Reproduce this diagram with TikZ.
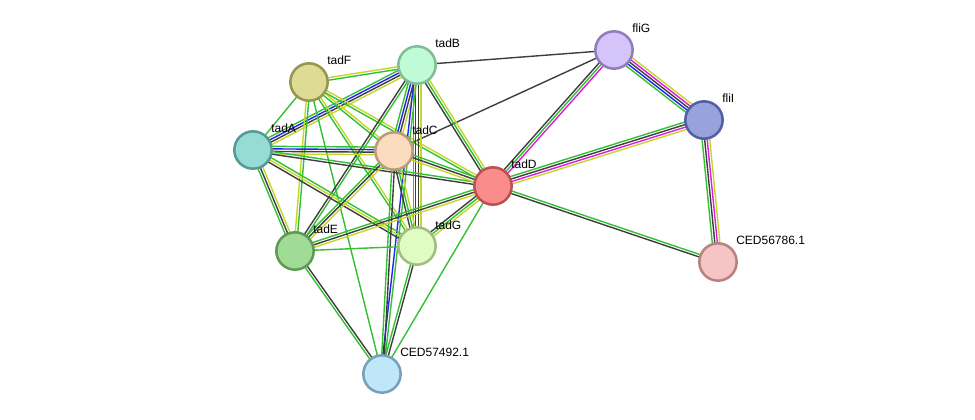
\documentclass[tikz,border=0pt]{standalone}
\usepackage{fontspec}
\setmainfont{Liberation Sans}
\usetikzlibrary{calc,backgrounds}
\definecolor{eg}{RGB}{51,192,51}
\definecolor{ey}{RGB}{196,214,44}
\definecolor{ek}{RGB}{62,62,62}
\definecolor{eb}{RGB}{35,35,240}
\definecolor{em}{RGB}{220,30,220}
\tikzset{
  prot/.style={circle,minimum size=28pt,inner sep=0pt,line width=1.9pt},
  plabel/.style={anchor=west,inner sep=0pt,font=\fontsize{9}{10}\selectfont},
}
\newcommand\edge[3]{%
  \foreach \c [count=\i] in {#3} {\xdef\ncount{\i}}%
  \foreach \c [count=\i] in {#3} {%
    \pgfmathsetmacro\off{(\i-(\ncount+1)/2)*1.9}%
    \draw[\c,line width=1.05pt] let \p1=($(#2.center)-(#1.center)$), \n1={atan2(\y1,\x1)+90} in
      ($(#1.center)+(\n1:\off pt)$) -- ($(#2.center)+(\n1:\off pt)$);
  }%
}
\begin{document}
\begin{tikzpicture}[x=0.75pt,y=-0.75pt]
\useasboundingbox (0,0) rectangle (975,419);
\node[prot,fill={rgb,255:red,222;green,220;blue,148},draw={rgb,255:red,150;green,150;blue,80}] (tadF) at (309,82) {};
\node[prot,fill={rgb,255:red,192;green,250;blue,214},draw={rgb,255:red,128;green,190;blue,150}] (tadB) at (417,65) {};
\node[prot,fill={rgb,255:red,212;green,196;blue,250},draw={rgb,255:red,145;green,125;blue,190}] (fliG) at (614,50) {};
\node[prot,fill={rgb,255:red,152;green,162;blue,220},draw={rgb,255:red,85;green,95;blue,165}] (fliI) at (704,120) {};
\node[prot,fill={rgb,255:red,150;green,220;blue,212},draw={rgb,255:red,85;green,155;blue,148}] (tadA) at (253,150) {};
\node[prot,fill={rgb,255:red,252;green,220;blue,190},draw={rgb,255:red,185;green,155;blue,125}] (tadC) at (394,151) {};
\node[prot,fill={rgb,255:red,250;green,140;blue,140},draw={rgb,255:red,190;green,80;blue,80}] (tadD) at (493,186) {};
\node[prot,fill={rgb,255:red,160;green,220;blue,150},draw={rgb,255:red,95;green,155;blue,85}] (tadE) at (295,251) {};
\node[prot,fill={rgb,255:red,225;green,252;blue,195},draw={rgb,255:red,160;green,190;blue,130}] (tadG) at (417,246) {};
\node[prot,fill={rgb,255:red,246;green,196;blue,196},draw={rgb,255:red,185;green,130;blue,130}] (c86) at (718,262) {};
\node[prot,fill={rgb,255:red,192;green,230;blue,250},draw={rgb,255:red,120;green,160;blue,185}] (c92) at (382,374) {};
\node[plabel] (ltadF) at (327,60) {tadF};
\node[plabel] (ltadB) at (435,43) {tadB};
\node[plabel] (lfliG) at (632,28) {fliG};
\node[plabel] (lfliI) at (722,98) {fliI};
\node[plabel] (ltadA) at (271,128) {tadA};
\node[plabel] (ltadC) at (412,130) {tadC};
\node[plabel] (ltadD) at (511,164) {tadD};
\node[plabel] (ltadE) at (313,229) {tadE};
\node[plabel] (ltadG) at (435,225) {tadG};
\node[plabel] (lc86) at (736,240) {CED56786.1};
\node[plabel] (lc92) at (400,352) {CED57492.1};
\begin{scope}[on background layer]
\edge{fliG}{tadB}{ek}
\edge{fliG}{tadC}{ek}
\edge{fliG}{tadD}{ek,eg,em}
\edge{fliG}{fliI}{eg,eb,ek,em,ey}
\edge{fliI}{tadD}{eg,ek,em,ey}
\edge{fliI}{c86}{eg,ek,em,ey}
\edge{tadD}{c86}{ek,eg}
\edge{tadF}{tadB}{eg,ey}
\edge{tadA}{tadB}{ey,ek,eb,eg}
\edge{tadF}{tadA}{eg}
\edge{tadF}{tadC}{eg,ey}
\edge{tadF}{tadD}{eg,ey}
\edge{tadF}{tadE}{ey,eg}
\edge{tadF}{tadG}{eg,ey}
\edge{tadF}{c92}{eg}
\edge{tadB}{tadC}{eg,eb,ek,ey}
\edge{tadB}{tadE}{ek,eg}
\edge{tadB}{tadG}{eg,ek,ek,ey}
\edge{tadB}{tadD}{ek,eg,ey}
\edge{tadB}{c92}{eb,eg}
\edge{tadA}{tadC}{ey,ek,eb,eg}
\edge{tadA}{tadD}{ek,eg}
\edge{tadA}{tadE}{eg,ek,ey}
\edge{tadA}{tadG}{ek,ey,eg}
\edge{tadC}{tadD}{ey,ek,eg}
\edge{tadC}{tadE}{eg,ek,ey}
\edge{tadC}{tadG}{ek,eg,ey}
\edge{tadC}{c92}{eg,ek}
\edge{tadD}{tadE}{eg,ek,ey}
\edge{tadD}{tadG}{ek,eg,ey}
\edge{tadD}{c92}{eg}
\edge{tadE}{tadG}{eg}
\edge{tadE}{c92}{eg,ek}
\edge{tadG}{c92}{eg,ek}
\end{scope}
\end{tikzpicture}
\end{document}
